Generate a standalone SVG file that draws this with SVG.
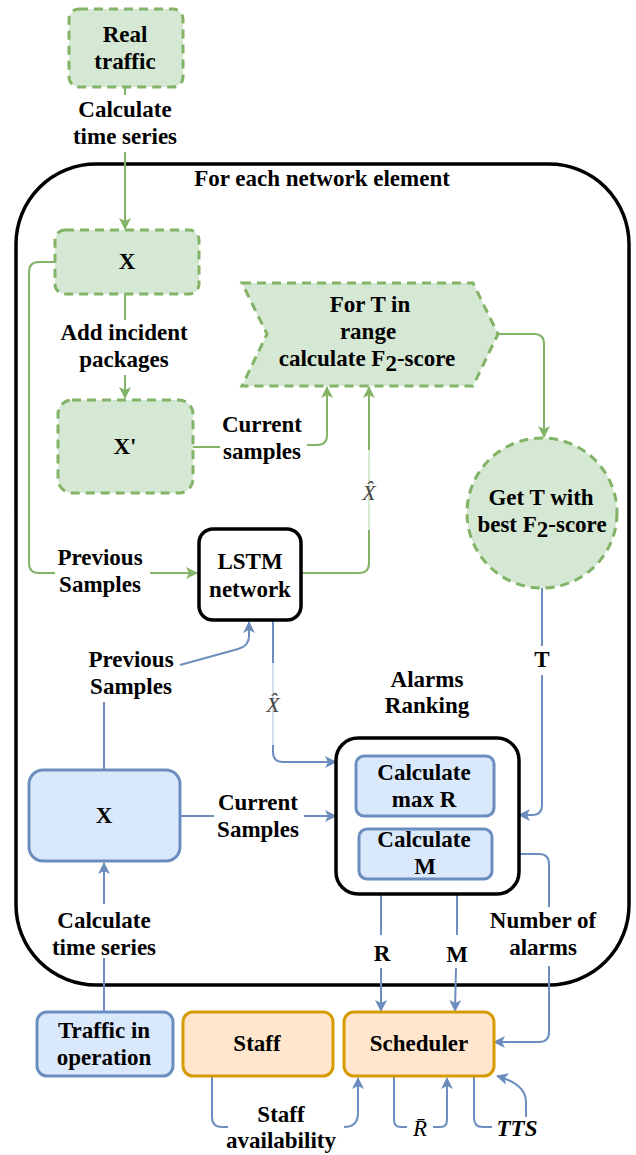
<svg xmlns="http://www.w3.org/2000/svg" width="636" height="1155" viewBox="0 0 636 1155">
  <style>
    text { font-family: "Liberation Serif", "Times New Roman", serif; }
    .t { font-weight: bold; font-size: 23px; fill: #000; text-anchor: middle; }
    .m { font-style: italic; font-size: 22px; fill: #444; text-anchor: middle; }
    .green { fill: #d5e8d4; stroke: #82b366; stroke-width: 3; stroke-dasharray: 9 6; }
    .blue { fill: #dae8fc; stroke: #6c8ebf; stroke-width: 3; }
    .orange { fill: #ffe6cc; stroke: #d79b00; stroke-width: 3; }
    .black { fill: #fff; stroke: #000; stroke-width: 3.5; }
    .eg { fill: none; stroke: #82b366; stroke-width: 2; }
    .eb { fill: none; stroke: #6c8ebf; stroke-width: 2; }
    .ag { marker-end: url(#arrG); }
    .ab { marker-end: url(#arrB); }
  </style>
  <defs>
    <marker id="arrG" viewBox="0 0 12 12" markerWidth="12" markerHeight="12" refX="11" refY="6" orient="auto" markerUnits="userSpaceOnUse">
      <path d="M0,0 L12,6 L0,12 L3,6 z" fill="#82b366"/>
    </marker>
    <marker id="arrB" viewBox="0 0 12 12" markerWidth="12" markerHeight="12" refX="11" refY="6" orient="auto" markerUnits="userSpaceOnUse">
      <path d="M0,0 L12,6 L0,12 L3,6 z" fill="#6c8ebf"/>
    </marker>
  </defs>

  <!-- outer loop container -->
  <g id="network-element-loop">
    <rect x="16" y="164" width="613" height="821" rx="80" fill="none" stroke="#000" stroke-width="3.5"/>
    <text class="t" x="322" y="186">For each network element</text>
  </g>

  <!-- connectors -->
  <g id="connectors">
    <!-- Real traffic -> X -->
    <path class="eg" d="M125,88 L125,95"/>
    <path class="eg ag" d="M125,152 L125,229"/>
    <text class="t" x="125" y="117">Calculate</text>
    <text class="t" x="125" y="144">time series</text>

    <!-- X -> X' -->
    <path class="eg" d="M125,295 L125,320"/>
    <path class="eg ag" d="M125,375 L125,398"/>
    <text class="t" x="124" y="340">Add incident</text>
    <text class="t" x="124" y="367">packages</text>

    <!-- X' -> For T in range -->
    <path class="eg" d="M193,447 L220,447"/>
    <path class="eg ag" d="M307,445 L317,445 Q327,445 327,435 L327,387"/>
    <text class="t" x="262" y="432">Current</text>
    <text class="t" x="262" y="459">samples</text>

    <!-- X -> LSTM (previous samples) -->
    <path class="eg" d="M55,262 L39,262 Q29,262 29,272 L29,563 Q29,573 39,573 L55,573"/>
    <path class="eg ag" d="M150,573 L197,573"/>
    <text class="t" x="100" y="565">Previous</text>
    <text class="t" x="100" y="592">Samples</text>

    <!-- LSTM -> For T in range (X hat) -->
    <path class="eg ag" d="M301,573 L359,573 Q369,573 369,563 L369,387"/>
    <rect x="363" y="450" width="12" height="80" fill="#fff" opacity="0.7"/>
    <text class="m" x="369" y="500">X̂</text>

    <!-- For T in range -> Get T -->
    <path class="eg ag" d="M498,334 L534,334 Q544,334 544,344 L544,437"/>

    <!-- blue X -> LSTM (previous samples) -->
    <path class="eb" d="M104,770 L104,702"/>
    <path class="eb ab" d="M180,665 L238,649 Q249,646 249,636 L249,622"/>
    <text class="t" x="131" y="667">Previous</text>
    <text class="t" x="131" y="694">Samples</text>

    <!-- LSTM -> Alarms ranking (X hat) -->
    <path class="eb ab" d="M273,621 L273,752 Q273,762 283,762 L336,762"/>
    <rect x="267" y="663" width="12" height="82" fill="#fff" opacity="0.7"/>
    <text class="m" x="273" y="712">X̂</text>

    <!-- blue X -> Alarms ranking (current samples) -->
    <path class="eb" d="M180,816 L214,816"/>
    <path class="eb ab" d="M304,816 L336,816"/>
    <text class="t" x="258" y="810">Current</text>
    <text class="t" x="258" y="837">Samples</text>

    <!-- Get T -> Alarms ranking -->
    <path class="eb" d="M542,588 L542,646"/>
    <path class="eb ab" d="M542,675 L542,805 Q542,815 532,815 L519,815"/>
    <text class="t" x="542" y="667">T</text>

    <!-- Alarms ranking -> Scheduler -->
    <path class="eb" d="M381,895 L381,935"/>
    <path class="eb ab" d="M381,968 L381,1011"/>
    <text class="t" x="382" y="961">R</text>

    <path class="eb" d="M457,895 L457,935"/>
    <path class="eb ab" d="M456,968 L455,1011"/>
    <text class="t" x="457" y="962">M</text>

    <path class="eb" d="M519,854 L539,854 Q549,854 549,864 L549,907"/>
    <path class="eb ab" d="M549,966 L549,1032 Q549,1042 539,1042 L494,1042"/>
    <text class="t" x="543" y="928">Number of</text>
    <text class="t" x="543" y="955">alarms</text>

    <!-- Traffic in operation -> blue X -->
    <path class="eb ab" d="M104,904 L104,863"/>
    <path class="eb" d="M104,1012 L104,958"/>
    <text class="t" x="104" y="928">Calculate</text>
    <text class="t" x="104" y="955">time series</text>

    <!-- Staff -> Scheduler -->
    <path class="eb" d="M212,1077 L212,1117 Q212,1127 222,1127 L228,1127"/>
    <path class="eb ab" d="M344,1127 Q358,1127 358,1113 L358,1078"/>
    <text class="t" x="281" y="1122">Staff</text>
    <text class="t" x="281" y="1148">availability</text>

    <!-- Scheduler feedback (R bar) -->
    <path class="eb" d="M394,1077 L394,1120 Q394,1127 401,1127 L407,1127"/>
    <path class="eb ab" d="M433,1127 L440,1127 Q447,1127 447,1120 L447,1078"/>
    <text class="m" x="420" y="1136" style="font-size:23px;fill:#000">R̄</text>

    <!-- Scheduler TTS -->
    <path class="eb" d="M474,1077 L474,1118 Q474,1127 483,1127 L492,1127"/>
    <path class="eb ab" d="M526,1117 L526,1102 Q526,1084 497,1076"/>
    <text class="t" x="517" y="1136" style="font-style:italic">TTS</text>
  </g>

  <!-- nodes -->
  <g id="real-traffic">
    <rect class="green" x="69" y="9" width="114" height="78" rx="10"/>
    <text class="t" x="125" y="42">Real</text>
    <text class="t" x="125" y="69">traffic</text>
  </g>

  <g id="x-real">
    <rect class="green" x="55" y="230" width="144" height="64" rx="10"/>
    <text class="t" x="127" y="269">X</text>
  </g>

  <g id="x-prime">
    <rect class="green" x="58" y="400" width="135" height="93" rx="14"/>
    <text class="t" x="125" y="454">X'</text>
  </g>

  <g id="threshold-loop">
    <path class="green" d="M242,283 L473,283 L498,334 L473,386 L242,386 L267,334 Z"/>
    <text class="t" x="370" y="312">For T in</text>
    <text class="t" x="368" y="339">range</text>
    <text class="t" x="367" y="366">calculate F<tspan dy="5">2</tspan><tspan dy="-5">-score</tspan></text>
  </g>

  <g id="best-threshold">
    <circle class="green" cx="542" cy="513" r="75"/>
    <text class="t" x="541" y="505">Get T with</text>
    <text class="t" x="542" y="532">best F<tspan dy="5">2</tspan><tspan dy="-5">-score</tspan></text>
  </g>

  <g id="lstm">
    <rect class="black" x="199" y="529" width="102" height="91" rx="14"/>
    <text class="t" x="250" y="569">LSTM</text>
    <text class="t" x="250" y="597">network</text>
  </g>

  <g id="x-operation">
    <rect class="blue" x="29" y="770" width="151" height="91" rx="14"/>
    <text class="t" x="104" y="823">X</text>
  </g>

  <g id="alarms-ranking">
    <text class="t" x="427" y="687">Alarms</text>
    <text class="t" x="427" y="713">Ranking</text>
    <rect class="black" x="336" y="738" width="183" height="156" rx="22"/>
    <g id="calc-max-r">
      <rect class="blue" x="356" y="756" width="138" height="60" rx="8"/>
      <text class="t" x="424" y="780">Calculate</text>
      <text class="t" x="424" y="807">max R</text>
    </g>
    <g id="calc-m">
      <rect class="blue" x="359" y="829" width="133" height="50" rx="8"/>
      <text class="t" x="424" y="847">Calculate</text>
      <text class="t" x="425" y="874">M</text>
    </g>
  </g>

  <g id="traffic-in-operation">
    <rect class="blue" x="37" y="1012" width="136" height="64" rx="10"/>
    <text class="t" x="104" y="1038">Traffic in</text>
    <text class="t" x="104" y="1065">operation</text>
  </g>

  <g id="staff">
    <rect class="orange" x="183" y="1012" width="150" height="64" rx="10"/>
    <text class="t" x="257" y="1051">Staff</text>
  </g>

  <g id="scheduler">
    <rect class="orange" x="344" y="1012" width="150" height="64" rx="10"/>
    <text class="t" x="419" y="1051">Scheduler</text>
  </g>
</svg>
